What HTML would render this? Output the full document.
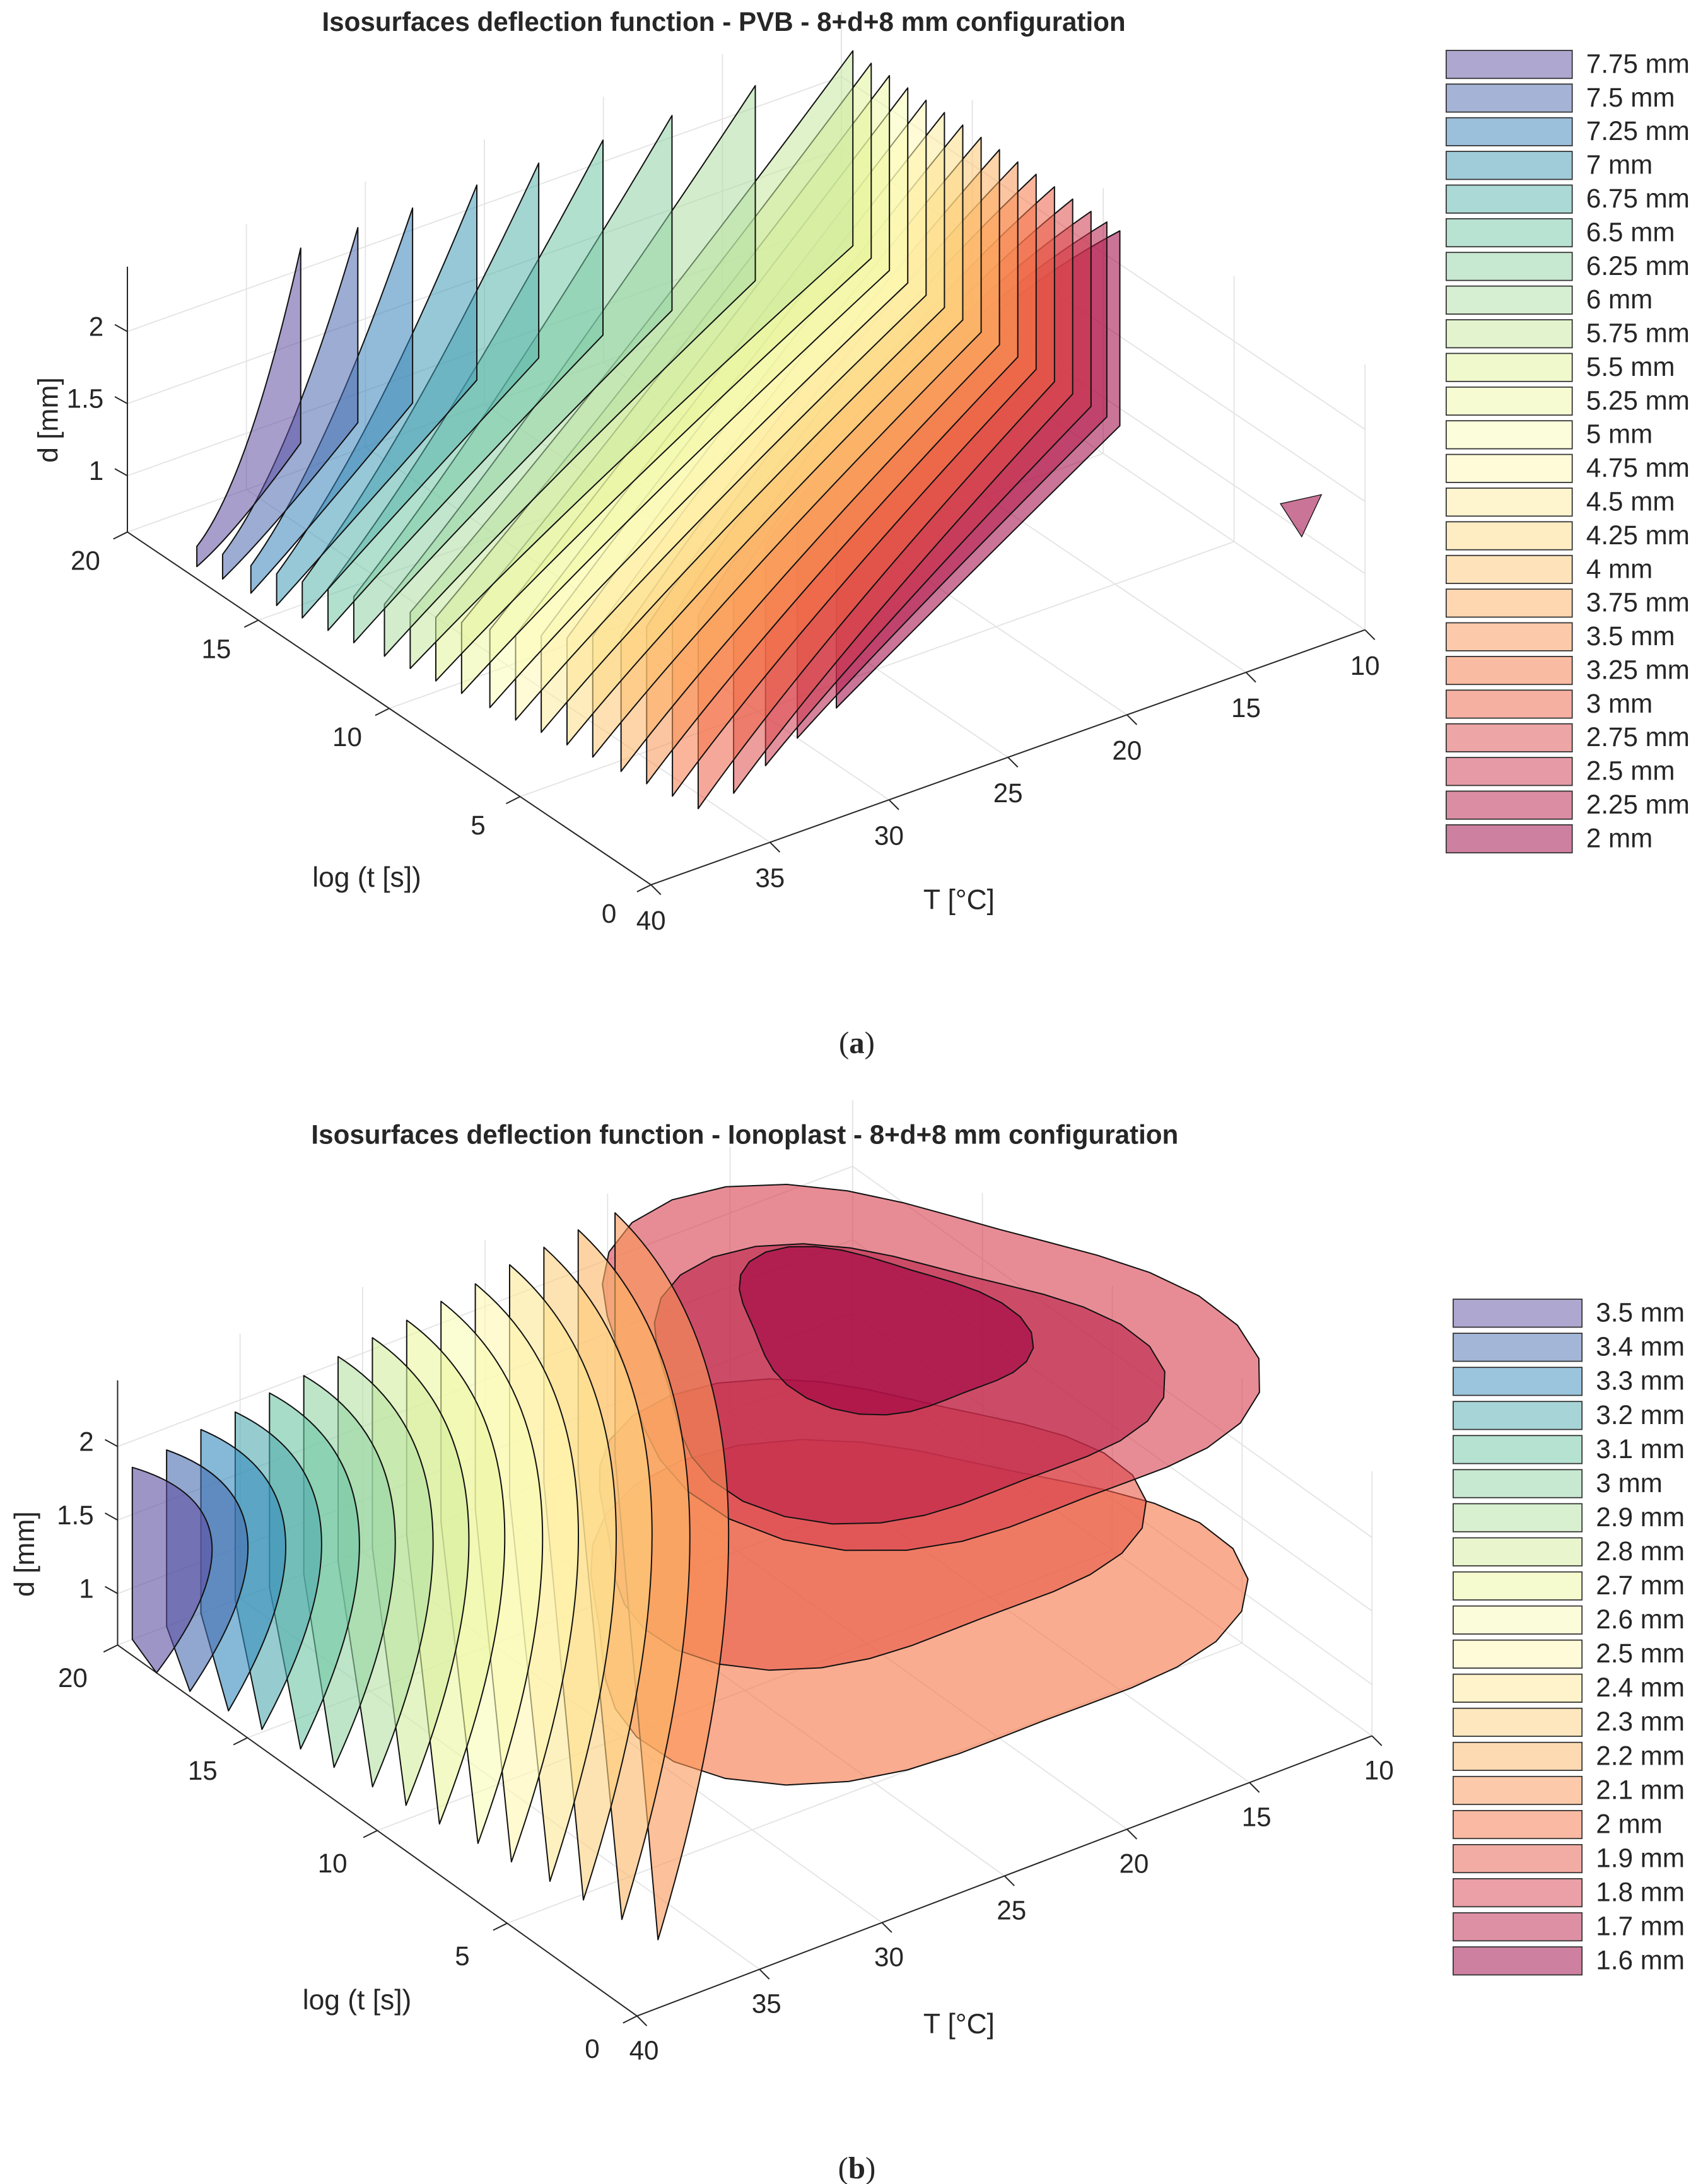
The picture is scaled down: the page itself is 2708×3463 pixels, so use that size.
<!DOCTYPE html>
<html><head><meta charset="utf-8"><style>
html,body{margin:0;padding:0;background:#fff;}
svg{display:block;}
text{font-family:"Liberation Sans",Arial,sans-serif;fill:#262626;}
</style></head><body>
<svg id="fig" width="2708" height="3463" viewBox="0 0 1220 1560" preserveAspectRatio="none" xmlns="http://www.w3.org/2000/svg">
<rect x="0" y="0" width="1220" height="1560" fill="#fff"/>
<g id="chartA"></g>
<g id="chartB"></g>
<text x="517" y="22" text-anchor="middle" font-weight="bold" font-size="19">Isosurfaces deflection function - PVB - 8+d+8 mm configuration</text>
<text x="532" y="817" text-anchor="middle" font-weight="bold" font-size="19">Isosurfaces deflection function - Ionoplast - 8+d+8 mm configuration</text>
<text x="612" y="752" text-anchor="middle" font-size="22" style="font-family:'Liberation Serif',serif">(<tspan font-weight="bold">a</tspan>)</text>
<text x="612" y="1556" text-anchor="middle" font-size="22" style="font-family:'Liberation Serif',serif">(<tspan font-weight="bold">b</tspan>)</text>
</svg>
<script>
// ---------- data: PVB ----------
const levelsA = [7.75,7.5,7.25,7,6.75,6.5,6.25,6,5.75,5.5,5.25,5,4.75,4.5,4.25,4,3.75,3.5,3.25,3,2.75,2.5,2.25,2];
const sheetFrontT_A = [17.8,17.0,16.1,15.3,14.5,13.7,12.9,12.0,11.2,10.4,9.6,8.7,7.9,7.1,6.3,5.5,4.6,3.8,3.0,2.2,2.3,2.9,3.5,4.1];
const sheetFrontTemp_A = [39.5,39.3,39.1,38.9,38.7,38.5,38.3,38.0,37.8,37.6,37.4,37.2,37.0,36.8,36.6,36.4,36.2,36.0,35.8,35.6,34.0,32.0,30.0,27.7];
const sheetFrontD_A = [0.75,0.78,0.8,0.83,0.86,0.9,0.93,0.97,1.0,1.05,1.1,1.15,1.2,1.28,1.35,1.45,1.55,1.7,1.85,1.95,2.05,2.15,2.2,2.25];
const sheetBackT_A = [19.2,19.2,19.2,19.2,19.2,19.2,19.2,19.2,19.2,18.5,17.8,17.1,16.4,15.7,15.0,14.3,13.6,12.9,12.2,11.5,10.8,10.1,9.5,9.0];
const sheetBackTemp_A = [33.6,31.2,28.9,26.2,23.6,20.9,18.0,14.5,10.4,10.4,10.4,10.4,10.4,10.4,10.4,10.4,10.4,10.4,10.4,10.4,10.4,10.4,10.4,10.4];
const sheetTopD_A = [2.3,2.3,2.3,2.3,2.3,2.3,2.3,2.3,2.3,2.3,2.3,2.3,2.3,2.3,2.3,2.3,2.3,2.3,2.3,2.3,2.3,2.3,2.3,2.3];
const dTicksA = [1,1.5,2];
const tTicks = [0,5,10,15,20];
const TTicks = [40,35,30,25,20,15,10];
// ---------- data: Ionoplast ----------
const levelsB = [3.5,3.4,3.3,3.2,3.1,3,2.9,2.8,2.7,2.6,2.5,2.4,2.3,2.2,2.1,2,1.9,1.8,1.7,1.6];
const sheetFrontT_B = [18.5,17.4,16.2,15.1,13.9,12.8,11.6,10.5,9.4,8.2,7.1,5.9,4.8,3.6,2.4];
const sheetFrontTemp_B = [40,39.8,39.5,39.3,39.0,38.8,38.5,38.3,38.1,37.8,37.6,37.3,37.1,36.8,36.6];
const sheetTipTemp_B = [39.4,38.0,36.6,35.2,33.8,32.4,31.0,29.6,28.2,26.8,25.4,24.0,22.6,21.2,19.7];
const sheetTipD_B = [1.82,1.85,1.9,1.93,1.97,2.0,2.04,2.08,2.11,2.15,2.18,2.22,2.25,2.28,2.3];
const sheetBulge_B = [5.5,5.3,5.1,4.9,4.7,4.5,4.3,4.1,3.9,3.7,3.5,3.3,3.1,2.9,2.7];
const blobT_B = [9.8,11.8,12.8,13.0,13.9];
const blobTemp_B = [19.5,19.0,15.5,16.0,15.5];
const blobRt_B = [7,6,8,6,3.8];
const blobRu_B = [11,9,10,8,4.2];
const blobD_B = [0.9,1.2,1.9,1.8,2.0];
const dTicksB = [1,1.5,2];

const NS="http://www.w3.org/2000/svg";
const spectral=["#9e0142","#d53e4f","#f46d43","#fdae61","#fee08b","#ffffbf","#e6f598","#abdda4","#66c2a5","#3288bd","#5e4fa2"];
function hex(c){return [parseInt(c.slice(1,3),16),parseInt(c.slice(3,5),16),parseInt(c.slice(5,7),16)];}
function cmap(f){
  const p=f*(spectral.length-1),i=Math.min(Math.floor(p),spectral.length-2),r=p-i;
  const a=hex(spectral[i]),b=hex(spectral[i+1]);
  return "rgb("+a.map((v,k)=>Math.round(v+(b[k]-v)*r)).join(",")+")";
}
function el(tag,attrs,parent){const e=document.createElementNS(NS,tag);for(const k in attrs)e.setAttribute(k,attrs[k]);parent.appendChild(e);return e;}
function pa(t,T,d){const u=40-T;return [465-18.7*t+17*u,632-12.6*t-6.07*u-103*(d-0.61)];}
function pb(t,T,d){const u=40-T;return [455-18.55*t+17.5*u,1440-13.25*t-6.67*u-105*(d-0.65)];}
const P=p=>p[0].toFixed(1)+","+p[1].toFixed(1);

function drawAxes(g,proj,dmin,dmax,dTicks,tOff,TOff,name){
  const grid=el("g",{stroke:"#e3e3e3","stroke-width":"0.8",fill:"none"},g);
  
  
  TTicks.forEach(T=>{
    el("line",{x1:proj(0,T,dmin)[0],y1:proj(0,T,dmin)[1],x2:proj(20,T,dmin)[0],y2:proj(20,T,dmin)[1]},grid);
    el("line",{x1:proj(20,T,dmin)[0],y1:proj(20,T,dmin)[1],x2:proj(20,T,dmax)[0],y2:proj(20,T,dmax)[1]},grid);
  });
  tTicks.forEach(t=>{
    el("line",{x1:proj(t,40,dmin)[0],y1:proj(t,40,dmin)[1],x2:proj(t,10,dmin)[0],y2:proj(t,10,dmin)[1]},grid);
    el("line",{x1:proj(t,10,dmin)[0],y1:proj(t,10,dmin)[1],x2:proj(t,10,dmax)[0],y2:proj(t,10,dmax)[1]},grid);
  });
  dTicks.forEach(d=>{
    el("polyline",{points:P(proj(20,40,d))+" "+P(proj(20,10,d))+" "+P(proj(0,10,d))},grid);
  });
  const ax=el("g",{stroke:"#262626","stroke-width":"0.9",fill:"none"},g);
  
  
  el("line",{x1:proj(20,40,dmin)[0],y1:proj(20,40,dmin)[1],x2:proj(20,40,dmax)[0],y2:proj(20,40,dmax)[1]},ax);
  el("line",{x1:proj(20,40,dmin)[0],y1:proj(20,40,dmin)[1],x2:proj(0,40,dmin)[0],y2:proj(0,40,dmin)[1]},ax);
  el("line",{x1:proj(0,40,dmin)[0],y1:proj(0,40,dmin)[1],x2:proj(0,10,dmin)[0],y2:proj(0,10,dmin)[1]},ax);
  dTicks.forEach(d=>{const p=proj(20,40,d);
    el("line",{x1:p[0],y1:p[1],x2:p[0]-9,y2:p[1]-5},ax);
    const tx=el("text",{x:p[0]-17,y:p[1]-2,"text-anchor":"end","font-size":"19","dominant-baseline":"middle"},g);
    tx.textContent=String(d);
    
    
  });
  tTicks.forEach(t=>{const p=proj(t,40,dmin);
    el("line",{x1:p[0],y1:p[1],x2:p[0]-10,y2:p[1]+5},ax);
    const tx=el("text",{x:p[0]+tOff[0],y:p[1]+tOff[1],"text-anchor":"middle","font-size":"19","dominant-baseline":"middle"},g);
    tx.textContent=String(t);
    
    
  });
  TTicks.forEach(T=>{const p=proj(0,T,dmin);
    el("line",{x1:p[0],y1:p[1],x2:p[0]+7,y2:p[1]+7},ax);
    const tx=el("text",{x:p[0]+TOff[0],y:p[1]+TOff[1],"text-anchor":"middle","font-size":"19","dominant-baseline":"middle"},g);
    tx.textContent=String(T);
    
    
  });
}
function legend(g,levels,x,y0,step,w){
  levels.forEach((lv,k)=>{
    const f=1-k/(levels.length-1);
    const r=el("rect",{x:x,y:y0+k*step-10,width:w,height:20,fill:cmap(f),"fill-opacity":"0.5",stroke:"#333","stroke-width":"0.8"},g);
    
    
    const t=el("text",{x:x+w+10,y:y0+k*step+1,"font-size":"19","dominant-baseline":"middle"},g);
    t.textContent=lv+" mm";
    
    
  });
}
function label(g,x,y,txt,rot,name){
  const t=el("text",{x:x,y:y,"text-anchor":"middle","font-size":"20","dominant-baseline":"middle"},g);
  if(rot)t.setAttribute("transform","rotate(-90 "+x+" "+y+")");
  t.textContent=txt;
  
  
}

// ---- Chart A ----
const gA=document.getElementById("chartA");
drawAxes(gA,pa,0.61,2.45,dTicksA,[-30,22],[0,27],"pvb");
const sA=el("g",{},gA);


const nA=levelsA.length;
for(let i=sheetFrontT_A.length-1;i>=0;i--){
  const tF=sheetFrontT_A[i],TF=sheetFrontTemp_A[i],dF=sheetFrontD_A[i],tB=sheetBackT_A[i],TB=sheetBackTemp_A[i],dT=sheetTopD_A[i];
  const p1=pa(tF,TF,0.61),p2=pa(tF,TF,dF),c=pa(tF*0.3+tB*0.7,TF*0.45+TB*0.55,dF+0.15),p3=pa(tB,TB,dT),p4=pa(tB,TB,0.61+(dT-0.61)*0.2);
  const cb=pa(tF*0.5+tB*0.5,TF*0.6+TB*0.4,0.61);
  const path=el("path",{d:"M"+P(p1)+" L"+P(p2)+" Q"+P(c)+" "+P(p3)+" L"+P(p4)+" Q"+P(cb)+" "+P(p1)+" Z",
    fill:cmap(1-i/(nA-1)),"fill-opacity":"0.55",stroke:"#111","stroke-width":"0.9","stroke-linejoin":"round"},sA);
  
  
}
{const a=pa(0.5,13,1.6),b=pa(0.3,11.5,1.6),c=pa(0.6,12,1.3);
 const tri=el("path",{d:"M"+P(a)+" L"+P(b)+" L"+P(c)+" Z",fill:cmap(0),"fill-opacity":"0.55",stroke:"#111","stroke-width":"0.6"},sA);
 
 }
label(gA,36,300,"d [mm]",true,"pvb-d-axis-title");
label(gA,262,628,"log (t [s])",false,"pvb-logt-axis-title");
label(gA,685,644,"T [°C]",false,"pvb-temperature-axis-title");
const lgA=el("g",{},gA);


legend(lgA,levelsA,1033,46,24.05,90);

// ---- Chart B ----
const gB=document.getElementById("chartB");
drawAxes(gB,pb,0.65,2.45,dTicksB,[-32,25],[5,26],"ionoplast");
const sB=el("g",{},gB);


const nB=levelsB.length, nS=sheetFrontT_B.length;
for(let k=0;k<blobT_B.length;k++){
  const idx=nS+k, pts=[];
  for(let a=0;a<36;a++){const th=a/36*2*Math.PI;
    const sq=1+0.12*Math.cos(3*th);
    pts.push(P(pb(blobT_B[k]+blobRt_B[k]*sq*Math.cos(th),blobTemp_B[k]-blobRu_B[k]*sq*Math.sin(th),blobD_B[k])));}
  const poly=el("polygon",{points:pts.join(" "),fill:cmap(1-idx/(nB-1)),"fill-opacity":"0.6",stroke:"#111","stroke-width":"0.9"},sB);
  
  
}
for(let i=nS-1;i>=0;i--){
  const tF=sheetFrontT_B[i],TF=sheetFrontTemp_B[i],TT=sheetTipTemp_B[i],dT=sheetTipD_B[i];
  const p1=pb(tF,TF,0.65),p2=pb(20,TT,0.65),p3=pb(20,TT,dT);
  const c=pb(20-(20-tF)*0.3,TT-sheetBulge_B[i],(dT+0.65)/2);
  const path=el("path",{d:"M"+P(p1)+" L"+P(p2)+" L"+P(p3)+" Q"+P(c)+" "+P(p1)+" Z",
    fill:cmap(1-i/(nB-1)),"fill-opacity":"0.6",stroke:"#111","stroke-width":"0.9","stroke-linejoin":"round"},sB);
  
  
}
label(gB,19,1110,"d [mm]",true,"ionoplast-d-axis-title");
label(gB,255,1430,"log (t [s])",false,"ionoplast-logt-axis-title");
label(gB,685,1447,"T [°C]",false,"ionoplast-temperature-axis-title");
const lgB=el("g",{},gB);


legend(lgB,levelsB,1038,938,24.35,92);
</script>
</body></html>
